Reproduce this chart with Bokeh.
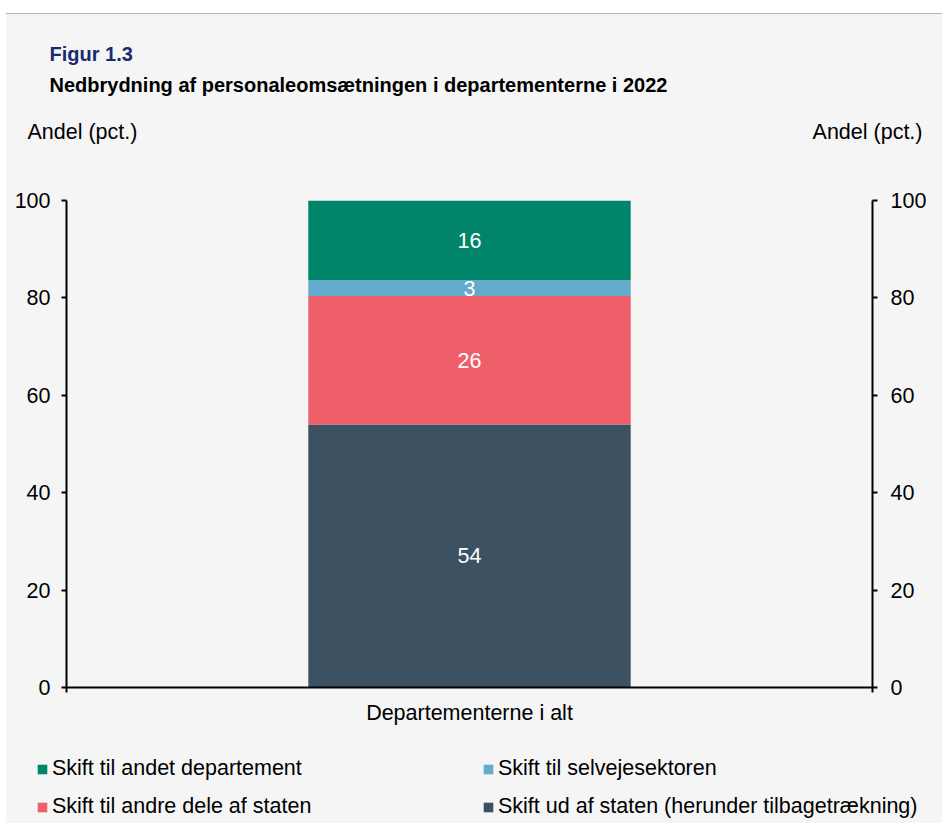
from bokeh.plotting import figure
from bokeh.models import (FactorRange, Range1d, LinearAxis, FixedTicker, Label, Legend,
                          LegendItem, ColumnDataSource, Span, Spacer)
from bokeh.layouts import column, row
from bokeh.core.properties import value
from bokeh.embed import file_html
from bokeh.resources import INLINE

# ---- data ----
categories = ["Departementerne i alt"]
series = ["Skift ud af staten (herunder tilbagetrækning)",
          "Skift til andre dele af staten",
          "Skift til selvejesektoren",
          "Skift til andet departement"]
values = [54.0, 26.4, 3.2, 16.4]
value_labels = ["54", "26", "3", "16"]
colors = ["#3C5263", "#EF5F6A", "#63AACC", "#00856A"]
y_ticks = [0, 20, 40, 60, 80, 100]
legend_order = [3, 2, 1, 0]

title_fig = "Figur 1.3"
title_main = "Nedbrydning af personaleomsætningen i departementerne i 2022"
y_label = "Andel (pct.)"

FONT = "Liberation Sans"
FS = "21.5px"
BG = "#F5F5F5"
X0 = 6            # page x of the gray panel's left edge
W = 936

# ---- header (titles) ----
HH = 172
head = figure(width=W, height=HH, x_range=Range1d(X0, X0 + W), y_range=Range1d(HH, 0),
              output_backend="svg", toolbar_location=None,
              x_axis_location=None, y_axis_location=None, min_border=0,
              background_fill_color=BG, border_fill_color=BG, outline_line_color=None)
head.grid.visible = False
head.styles = {"border-top": "1px solid #B4B4B4"}
head.add_layout(Label(x=49, y=39, text=title_fig, text_font=FONT, text_font_size="20px",
                      text_font_style="bold", text_color="#1A2B6D", text_baseline="middle"))
head.add_layout(Label(x=49, y=70, text=title_main, text_font=FONT, text_font_size="20px",
                      text_font_style="bold", text_color="black", text_baseline="middle"))
head.add_layout(Label(x=27, y=117, text=y_label, text_font=FONT, text_font_size=FS,
                      text_color="black", text_baseline="middle"))
head.add_layout(Label(x=922, y=117, text=y_label, text_font=FONT, text_font_size=FS,
                      text_color="black", text_baseline="middle", text_align="right"))

# ---- main chart ----
p = figure(width=W, height=554, x_range=FactorRange(*categories),
           y_range=Range1d(-1.05, 100), output_backend="svg", toolbar_location=None,
           min_border_left=66 - X0, min_border_right=X0 + W - 872,
           min_border_top=15, min_border_bottom=47,
           background_fill_color=BG, border_fill_color=BG, outline_line_color=None)
p.grid.visible = False

bottom = 0.0
mids = []
for s, v, c in zip(series, values, colors):
    src = ColumnDataSource(dict(x=categories, bottom=[bottom], top=[bottom + v]))
    p.vbar(x="x", bottom="bottom", top="top", width=0.4, source=src,
           fill_color=c, line_color=None)
    mids.append(bottom + v / 2)
    bottom += v

txt_src = ColumnDataSource(dict(x=categories * len(values), y=mids, t=value_labels))
p.text(x="x", y="y", text="t", source=txt_src, text_color="white",
       text_font=value(FONT), text_font_size=FS, text_align="center",
       text_baseline="middle")

p.add_layout(Span(location=0, dimension="width", line_color="black", line_width=2))

def style_y(ax, standoff):
    ax.ticker = FixedTicker(ticks=y_ticks)
    ax.major_tick_in = 0
    ax.major_tick_out = 5
    ax.minor_tick_line_color = None
    ax.axis_line_width = 2
    ax.axis_line_color = "black"
    ax.major_tick_line_width = 2
    ax.major_tick_line_color = "black"
    ax.major_label_text_font = FONT
    ax.major_label_text_font_size = FS
    ax.major_label_text_color = "black"
    ax.major_label_standoff = standoff

style_y(p.yaxis[0], 11)
ry = LinearAxis()
style_y(ry, 13)
p.add_layout(ry, "right")

xa = p.xaxis[0]
xa.axis_line_color = None
xa.major_tick_line_color = None
xa.minor_tick_line_color = None
xa.major_label_text_font = FONT
xa.major_label_text_font_size = FS
xa.major_label_text_color = "black"
xa.major_label_standoff = 2

# ---- footer (legend) ----
FH = 84
foot = figure(width=W, height=FH, x_range=Range1d(0, 1), y_range=Range1d(0, 1),
              output_backend="svg", toolbar_location=None,
              x_axis_location=None, y_axis_location=None, min_border=0,
              background_fill_color=BG, border_fill_color=BG, outline_line_color=None)
foot.grid.visible = False
swatches = []
for s, v, c in zip(series, values, colors):
    # legend swatch renderers (zero width, so nothing is drawn in the strip itself)
    r = foot.vbar(x=[0.5], top=[v], width=0, fill_color=c, line_color=None)
    swatches.append(r)

items = [LegendItem(label=series[i], renderers=[swatches[i]]) for i in legend_order]
legend = Legend(items=items, location=(36 - X0, 4), orientation="horizontal", ncols=2,
                padding=0, margin=0, spacing=13, border_line_color=None,
                background_fill_alpha=0, glyph_width=12, glyph_height=12,
                label_standoff=4, label_width=417, label_height=24,
                label_text_font=FONT, label_text_font_size=FS, label_text_color="black")
foot.add_layout(legend, "center")

panel = column(row(head), p, row(foot), styles={"background-color": BG})
layout = column(Spacer(height=13), row(Spacer(width=X0), panel))
open("out.html", "w").write(file_html(layout, INLINE))
